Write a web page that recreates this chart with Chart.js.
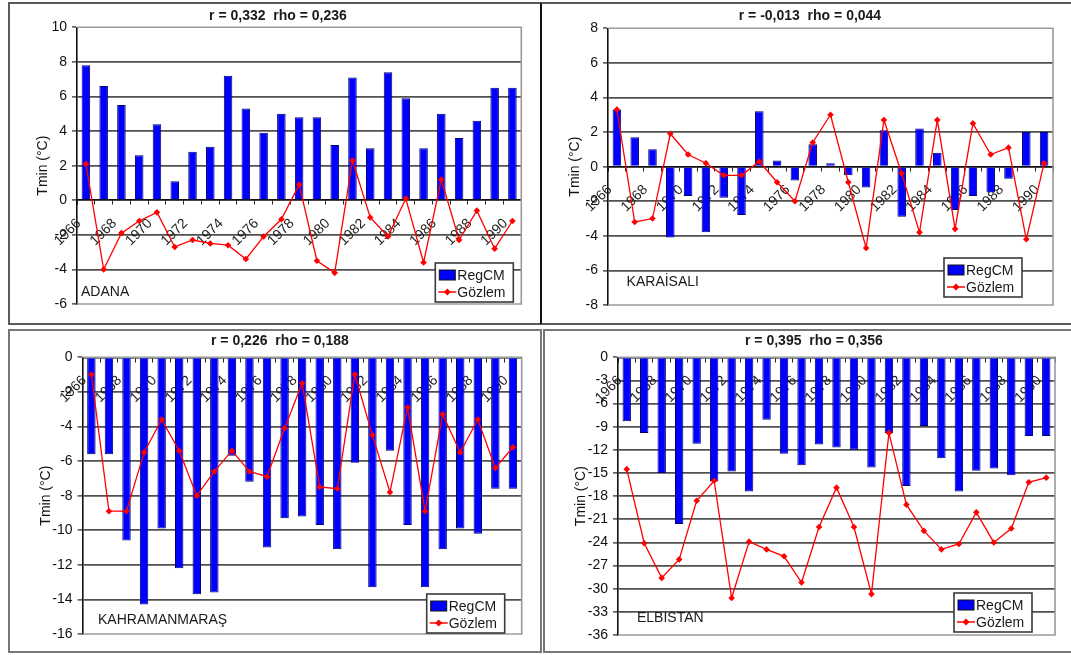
<!DOCTYPE html>
<html>
<head>
<meta charset="utf-8">
<script src="https://cdn.jsdelivr.net/npm/chart.js@4/dist/chart.umd.min.js"></script>
<style>
  html, body { margin: 0; padding: 0; background: #fff; width: 1071px; height: 655px; overflow: hidden; position: relative; }
  .frame { position: absolute; box-sizing: border-box; }
  canvas { position: absolute; }
</style>
</head>
<body>
<div class="frame" style="left:8px;top:2px;width:534px;height:323px;border:2px solid #5a5a5a;"></div>
<div class="frame" style="left:540px;top:2px;width:545px;height:323px;border:2px solid #5a5a5a;border-left:2.5px solid #111;"></div>
<div class="frame" style="left:8px;top:329px;width:534px;height:324px;border:2px solid #777;"></div>
<div class="frame" style="left:543px;top:329px;width:545px;height:324px;border:2px solid #777;"></div>

<canvas id="adana" width="536" height="321" style="left:10px;top:3px"></canvas>
<canvas id="karaisali" width="564" height="321" style="left:543px;top:3px"></canvas>
<canvas id="kahramanmaras" width="536" height="322" style="left:10px;top:330px"></canvas>
<canvas id="elbistan" width="535" height="322" style="left:543px;top:330px"></canvas>

<script>
// Years on the category axis (every second one is labelled)
const years = ['1966','1967','1968','1969','1970','1971','1972','1973','1974','1975','1976','1977','1978',
               '1979','1980','1981','1982','1983','1984','1985','1986','1987','1988','1989','1990'];

// Adana
const adanaRegcm = [7.8, 6.6, 5.5, 2.6, 4.4, 1.1, 2.8, 3.1, 7.2, 5.3, 3.9, 5.0, 4.8, 4.8, 3.2, 7.1, 3.0, 7.4, 5.9, 3.0, 5.0, 3.6, 4.6, 6.5, 6.5];
const adanaObs   = [2.1, -4.0, -1.9, -1.2, -0.7, -2.7, -2.3, -2.5, -2.6, -3.4, -2.1, -1.1, 0.9, -3.5, -4.2, 2.3, -1.0, -2.1, 0.1, -3.6, 1.2, -2.3, -0.6, -2.8, -1.2];

// Karaisalı
const karaisaliRegcm = [3.3, 1.7, 1.0, -4.1, -1.7, -3.8, -1.8, -2.8, 3.2, 0.35, -0.8, 1.3, 0.2, -0.5, -1.2, 2.1, -2.9, 2.2, 0.8, -2.5, -1.7, -1.5, -0.7, 2.0, 2.0];
const karaisaliObs   = [3.3, -3.2, -3.0, 1.9, 0.7, 0.2, -0.5, -0.5, 0.3, -0.9, -2.0, 1.4, 3.0, -0.9, -4.7, 2.7, -0.4, -3.8, 2.7, -3.6, 2.5, 0.7, 1.1, -4.2, 0.2];

// Kahramanmaraş
const kahramanmarasRegcm = [-5.6, -5.6, -10.6, -14.3, -9.9, -12.2, -13.7, -13.6, -5.7, -7.2, -11.0, -9.3, -9.2, -9.7, -11.1, -6.1, -13.3, -5.4, -9.7, -13.3, -11.1, -9.9, -10.2, -7.6, -7.6];
const kahramanmarasObs   = [-1.0, -8.9, -8.9, -5.5, -3.6, -5.4, -8.0, -6.6, -5.4, -6.6, -6.9, -4.1, -1.5, -7.5, -7.6, -1.0, -4.5, -7.8, -2.9, -8.9, -3.3, -5.5, -3.6, -6.4, -5.2];

// Elbistan
const elbistanRegcm = [-8.3, -9.8, -15.0, -21.6, -11.2, -16.1, -14.8, -17.4, -8.1, -12.5, -14.0, -11.3, -11.7, -12.0, -14.3, -9.8, -16.7, -8.9, -13.1, -17.4, -14.7, -14.4, -15.3, -10.2, -10.2];
const elbistanObs   = [-14.5, -24.1, -28.6, -26.2, -18.6, -16.0, -31.2, -23.9, -24.9, -25.8, -29.2, -22.0, -16.9, -22.0, -30.7, -9.8, -19.1, -22.5, -24.9, -24.2, -20.1, -24.0, -22.2, -16.2, -15.6];

const FONT = '"Liberation Sans", Arial, sans-serif';
Chart.defaults.font.family = FONT;
Chart.defaults.font.size = 14;
Chart.defaults.color = '#111';

// Grey outline of the plot area (top, right, bottom)
const plotFrame = {
  id: 'plotFrame',
  beforeDatasetsDraw(chart) {
    const { ctx, chartArea: a } = chart;
    ctx.save();
    ctx.strokeStyle = '#9a9a9a';
    ctx.lineWidth = 1.6;
    ctx.beginPath();
    ctx.moveTo(a.left, a.top);
    ctx.lineTo(a.right, a.top);
    ctx.lineTo(a.right, a.bottom);
    ctx.lineTo(a.left, a.bottom);
    ctx.stroke();
    ctx.restore();
  }
};

// Station name written inside the plot, lower left
const stationName = {
  id: 'stationName',
  afterDatasetsDraw(chart, args, o) {
    const { ctx, chartArea: a } = chart;
    ctx.save();
    ctx.font = '14px ' + FONT;
    ctx.fillStyle = '#1a1a1a';
    ctx.textAlign = 'left';
    ctx.textBaseline = 'middle';
    ctx.fillText(o.text, a.left + o.dx, a.bottom - o.dy);
    ctx.restore();
  }
};

// Boxed legend in the lower right corner of the plot
const boxLegend = {
  id: 'boxLegend',
  afterDraw(chart, args, o) {
    const { ctx, chartArea: a } = chart;
    const w = 78, h = 39;
    const x = a.right - o.right - w, y = a.bottom - o.bottom - h;
    const bars = chart.data.datasets.find(d => d.type === 'bar');
    const line = chart.data.datasets.find(d => d.type === 'line');
    ctx.save();
    ctx.fillStyle = '#fff';
    ctx.fillRect(x, y, w, h);
    ctx.strokeStyle = '#3a3a3a';
    ctx.lineWidth = 1.6;
    ctx.strokeRect(x, y, w, h);
    const r1 = y + 12, r2 = y + 29;
    // bar swatch
    ctx.fillStyle = bars.backgroundColor;
    ctx.fillRect(x + 4, r1 - 5, 16, 10);
    ctx.strokeStyle = '#111';
    ctx.lineWidth = 1;
    ctx.strokeRect(x + 4, r1 - 5, 16, 10);
    // line swatch with marker
    ctx.strokeStyle = line.borderColor;
    ctx.lineWidth = 1.5;
    ctx.beginPath();
    ctx.moveTo(x + 3, r2);
    ctx.lineTo(x + 21, r2);
    ctx.stroke();
    ctx.fillStyle = line.backgroundColor;
    ctx.beginPath();
    ctx.moveTo(x + 12, r2 - 3.5);
    ctx.lineTo(x + 15.5, r2);
    ctx.lineTo(x + 12, r2 + 3.5);
    ctx.lineTo(x + 8.5, r2);
    ctx.closePath();
    ctx.fill();
    // texts
    ctx.font = '14px ' + FONT;
    ctx.fillStyle = '#1a1a1a';
    ctx.textAlign = 'left';
    ctx.textBaseline = 'middle';
    ctx.fillText(bars.label, x + 22, r1 + 1);
    ctx.fillText(line.label, x + 22, r2 + 1);
    ctx.restore();
  }
};

function makeChart(id, p) {
  return new Chart(document.getElementById(id), {
    type: 'bar',
    data: {
      labels: years,
      datasets: [
        {
          type: 'line', label: 'Gözlem', data: p.obs,
          borderColor: '#ff0000', backgroundColor: '#ff0000',
          borderWidth: 1.3, tension: 0,
          pointStyle: 'rectRot', pointRadius: 3.3, pointBorderWidth: 0,
          order: 0
        },
        {
          type: 'bar', label: 'RegCM', data: p.regcm,
          backgroundColor: '#0000ff', borderColor: '#000070', borderWidth: 1,
          categoryPercentage: 1, barPercentage: 0.48,
          order: 1
        }
      ]
    },
    options: {
      responsive: false,
      animation: false,
      devicePixelRatio: 1,
      layout: { padding: p.padding },
      plugins: {
        legend: { display: false },
        tooltip: { enabled: false },
        title: {
          display: true, text: p.title, color: '#1a1a1a',
          font: { size: 14, weight: 'bold' },
          padding: p.titlePad
        },
        stationName: p.station,
        boxLegend: p.legend
      },
      scales: {
        x: {
          position: { y: 0 },
          z: 1,
          offset: true,
          grid: { display: true, drawOnChartArea: false, drawTicks: true, tickLength: 4, color: '#222', offset: true },
          border: { display: true, color: '#111', width: 1.5 },
          ticks: {
            autoSkip: false, maxRotation: 45, minRotation: 45,
            padding: 11, labelOffset: -7, color: '#222',
            font: { size: 14 },
            callback: (v, i) => (i % 2 === 0 ? years[i] : '')
          }
        },
        y: {
          min: p.min, max: p.max,
          afterFit: s => { s.width = p.yWidth; },
          ticks: { stepSize: p.step, padding: 5, color: '#111', font: { size: 14 } },
          title: { display: true, text: 'Tmin (°C)', color: '#111', font: { size: 14 }, padding: 0 },
          grid: {
            color: c => (c.tick && (c.tick.value === p.min || c.tick.value === p.max)) ? 'rgba(0,0,0,0)' : '#505050',
            lineWidth: 1.8, tickLength: 5, tickColor: '#333', tickWidth: 1.3
          },
          border: { display: true, color: '#111', width: 1.6 }
        }
      }
    },
    plugins: [plotFrame, stationName, boxLegend]
  });
}

makeChart('adana', {
  title: 'r = 0,332  rho = 0,236',
  regcm: adanaRegcm, obs: adanaObs,
  min: -6, max: 10, step: 2, yWidth: 42.4,
  padding: { left: 24.6, right: 24.7, top: 0, bottom: 20 },
  titlePad: { top: 4.6, bottom: 2.9 },
  station: { text: 'ADANA', dx: 4, dy: 12.3 },
  legend: { right: 8, bottom: 2 }
});

makeChart('karaisali', {
  title: 'r = -0,013  rho = 0,044',
  regcm: karaisaliRegcm, obs: karaisaliObs,
  min: -8, max: 8, step: 2, yWidth: 41.1,
  padding: { left: 23.9, right: 54, top: 0, bottom: 19 },
  titlePad: { top: 4.3, bottom: 4.2 },
  station: { text: 'KARAİSALI', dx: 18.6, dy: 23.3 },
  legend: { right: 31, bottom: 8 }
});

makeChart('kahramanmaras', {
  title: 'r = 0,226  rho = 0,188',
  regcm: kahramanmarasRegcm, obs: kahramanmarasObs,
  min: -16, max: 0, step: 2, yWidth: 44.5,
  padding: { left: 28.1, right: 24.3, top: 0, bottom: 18 },
  titlePad: { top: 2.3, bottom: 8.2 },
  station: { text: 'KAHRAMANMARAŞ', dx: 15.4, dy: 14 },
  legend: { right: 17, bottom: 1 }
});

makeChart('elbistan', {
  title: 'r = 0,395  rho = 0,356',
  regcm: elbistanRegcm, obs: elbistanObs,
  min: -36, max: 0, step: 3, yWidth: 45.2,
  padding: { left: 29.8, right: 23, top: 0, bottom: 17 },
  titlePad: { top: 2.3, bottom: 8.2 },
  station: { text: 'ELBISTAN', dx: 19, dy: 16.7 },
  legend: { right: 23, bottom: 3 }
});
</script>
</body>
</html>
